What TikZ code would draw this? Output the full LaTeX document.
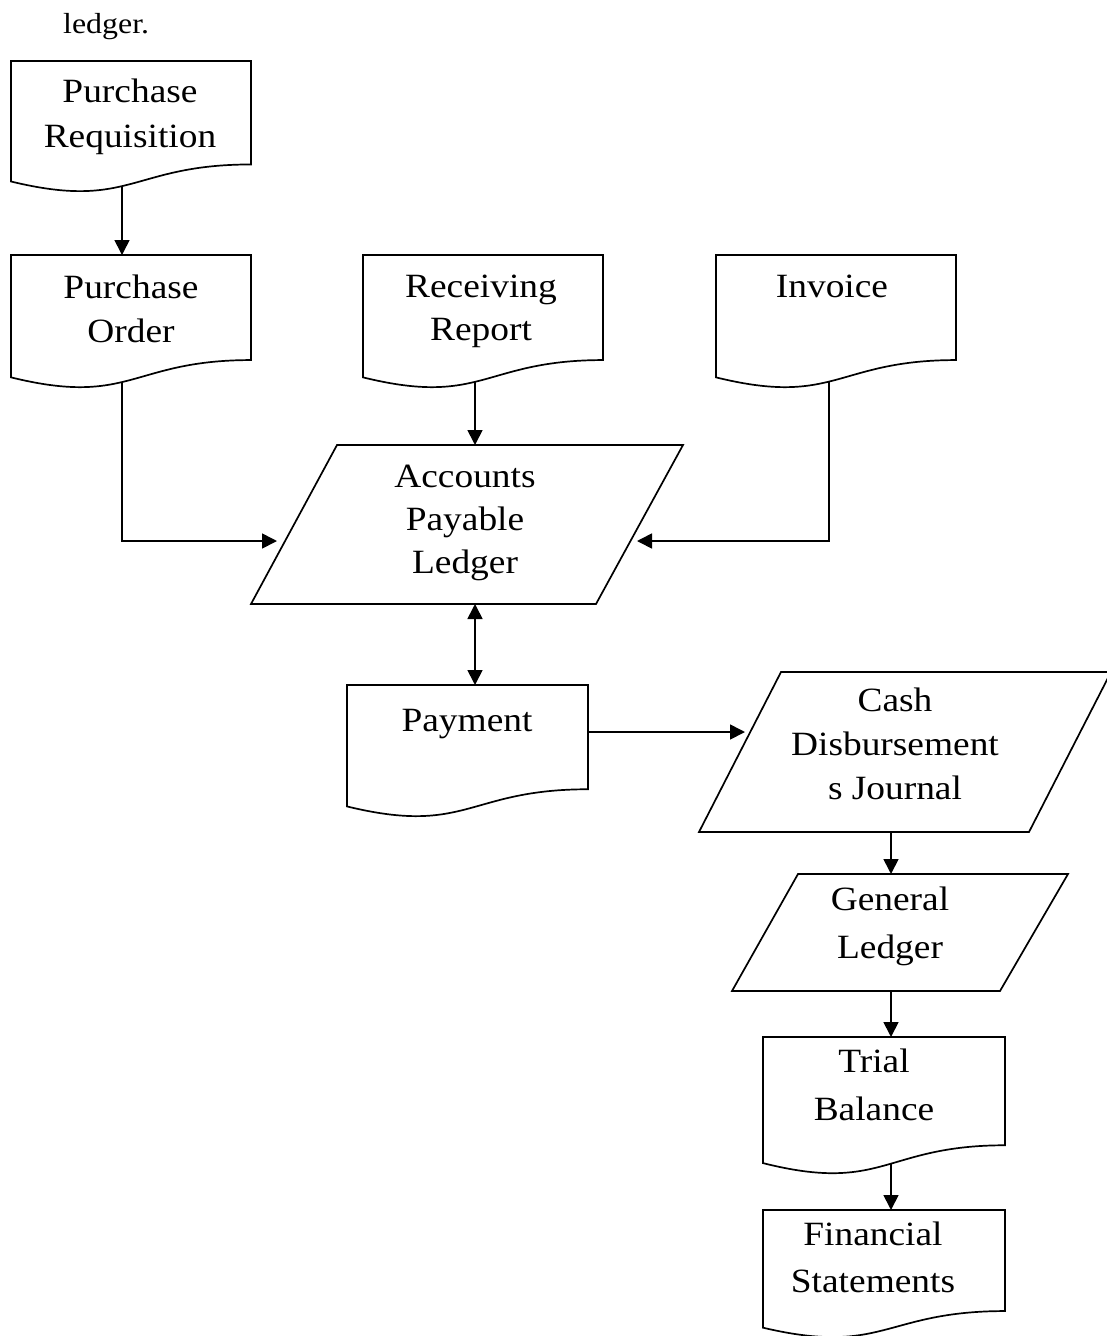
\documentclass[tikz,border=0pt]{standalone}
\usepackage{fontspec}
\setmainfont{Liberation Serif}[FakeStretch=1.1]
\usetikzlibrary{arrows.meta}
\newcommand\DocShape[4]{%
  \draw[shp] (#1,#2) -- ({#1+#3},#2) -- ({#1+#3},{#2+0.802*#4})
    .. controls ({#1+0.5*#3},{#2+0.802*#4}) and ({#1+0.5*#3},{#2+1.16*#4}) ..
    (#1,{#2+0.934*#4}) -- cycle;}
\begin{document}
\begin{tikzpicture}[x=1pt,y=-1pt,
  shp/.style={draw=black, line width=1.7pt, fill=white, line join=miter},
  conn/.style={draw=black, line width=1.7pt},
  arr/.style={conn, -{Triangle[length=15pt,width=15pt]}},
  darr/.style={conn, {Triangle[length=15pt,width=15pt]}-{Triangle[length=15pt,width=15pt]}},
  txt/.style={inner sep=0pt, align=center, anchor=base},
  sp/.style={font=\fontsize{34}{#1}\selectfont}]
\fill[white] (0,0) rectangle (1106,1336);
\useasboundingbox (0,0) rectangle (1106,1336);
% connector end points
\coordinate (pr-out) at (122,165);
\coordinate (po-in) at (122,255);
\coordinate (po-out) at (122,360);
\coordinate (apl-l) at (277,541);
\coordinate (rr-out) at (475,360);
\coordinate (apl-t) at (475,445);
\coordinate (inv-out) at (829,360);
\coordinate (apl-r) at (637,541);
\coordinate (apl-b) at (475,604);
\coordinate (pay-t) at (475,685);
\coordinate (pay-r) at (588,732);
\coordinate (cdj-l) at (745,732);
\coordinate (cdj-b) at (891,832);
\coordinate (gl-t) at (891,874);
\coordinate (gl-b) at (891,991);
\coordinate (tb-t) at (891,1037);
\coordinate (tb-out) at (891,1146);
\coordinate (fs-t) at (891,1210);
% connectors
\draw[arr] (pr-out) -- (po-in);
\draw[arr] (po-out) |- (apl-l);
\draw[arr] (rr-out) -- (apl-t);
\draw[arr] (inv-out) |- (apl-r);
\draw[darr] (apl-b) -- (pay-t);
\draw[arr] (pay-r) -- (cdj-l);
\draw[arr] (cdj-b) -- (gl-t);
\draw[arr] (gl-b) -- (tb-t);
\draw[arr] (tb-out) -- (fs-t);
% shapes
\DocShape{11}{61}{240}{129}
\DocShape{11}{255}{240}{131}
\DocShape{363}{255}{240}{131}
\DocShape{716}{255}{240}{131}
\DocShape{347}{685}{241}{130}
\DocShape{763}{1037}{242}{135}
\DocShape{763}{1210}{242}{126}
\draw[shp] (337,445) -- (683,445) -- (596,604) -- (251,604) -- cycle;
\draw[shp] (781,672) -- (1111,672) -- (1029,832) -- (699,832) -- cycle;
\draw[shp] (798,874) -- (1068,874) -- (1000,991) -- (732,991) -- cycle;
% texts (anchor = baseline of the last line)
\node[inner sep=0pt, anchor=base west, font=\fontsize{29}{34}\selectfont] (top) at (63,33) {ledger.};
\node[txt, sp=45] (pr) at (130,147) {Purchase\\Requisition};
\node[txt, sp=44] (po) at (131,342) {Purchase\\Order};
\node[txt, sp=43] (rr) at (481,340) {Receiving\\Report};
\node[txt, sp=43] (inv) at (832,297) {Invoice};
\node[txt, sp=43] (apl) at (465,573) {Accounts\\Payable\\Ledger};
\node[txt, sp=43] (pay) at (467,731) {Payment};
\node[txt, sp=44] (cdj) at (895,799) {Cash\\Disbursement\\s Journal};
\node[txt, sp=48] (gl) at (890,958) {General\\Ledger};
\node[txt, sp=48] (tb) at (874,1120) {Trial\\Balance};
\node[txt, sp=47] (fs) at (873,1292) {Financial\\Statements};
\end{tikzpicture}
\end{document}
